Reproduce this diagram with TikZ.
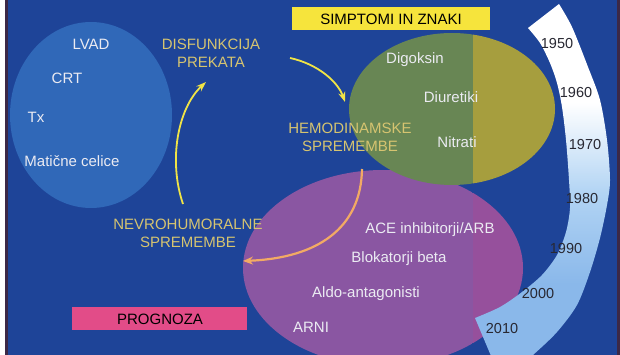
\documentclass[tikz,border=0pt]{standalone}
\usepackage{fontspec}
\setmainfont{Liberation Sans}
\usetikzlibrary{arrows.meta}
\definecolor{bg}{RGB}{30,68,152}
\definecolor{blueell}{RGB}{48,104,184}
\definecolor{greenell}{RGB}{104,134,84}
\definecolor{oliveell}{RGB}{166,158,62}
\definecolor{purpell}{RGB}{138,86,162}
\definecolor{purpell2}{RGB}{150,80,156}
\definecolor{khaki}{RGB}{214,196,112}
\definecolor{arrowyel}{RGB}{240,228,70}
\definecolor{arroworg}{RGB}{242,170,100}
\definecolor{ybox}{RGB}{246,228,60}
\definecolor{pbox}{RGB}{226,76,136}
\definecolor{bandlow}{RGB}{138,184,234}
\definecolor{bandmid}{RGB}{178,212,244}
\definecolor{yeartxt}{RGB}{40,40,50}
\definecolor{wtxt}{RGB}{235,235,242}
\definecolor{edgeline}{RGB}{60,40,70}
\pgfdeclareverticalshading{bandshade}{100bp}{color(0bp)=(bandlow); color(38bp)=(bandlow); color(50bp)=(bandmid); color(62bp)=(white); color(100bp)=(white)}
\tikzset{
  lbl/.style={anchor=north, inner sep=0pt, font=\fontsize{15}{18}\selectfont},
  wlbl/.style={lbl, text=wtxt},
  klbl/.style={lbl, text=khaki, align=center},
  yearlbl/.style={anchor=north, inner sep=0pt, text=yeartxt, font=\fontsize{14.5}{17}\selectfont},
  yarrow/.style={draw=arrowyel, line width=1.8pt, -{Stealth[length=10pt,width=7pt]}},
  oarrow/.style={draw=arroworg, line width=2.2pt, -{Stealth[length=10pt,width=8pt]}},
  boxlbl/.style={inner sep=0pt, text=black, font=\fontsize{15}{18}\selectfont}
}
\begin{document}
\begin{tikzpicture}[x=1pt,y=-1pt]
\useasboundingbox (0,0) rectangle (620,355);
\fill[white] (0,0) rectangle (620,355);
\fill[edgeline] (4.5,0) rectangle (8,355);
\fill[bg] (8,0) rectangle (617,355);
\fill[edgeline] (617,0) rectangle (620,355);
\begin{scope}
\clip (8,0) rectangle (617,355);
% blue ellipse
\fill[blueell] (91,115) ellipse [x radius=81pt, y radius=93pt];
% purple ellipse
\begin{scope}
\clip (383,268) ellipse [x radius=140pt, y radius=98pt];
\fill[purpell] (230,160) rectangle (473,380);
\fill[purpell2] (473,160) rectangle (540,380);
\end{scope}
% green ellipse
\begin{scope}
\clip (452,109) ellipse [x radius=103pt, y radius=76pt];
\fill[greenell] (340,20) rectangle (473,200);
\fill[oliveell] (473,20) rectangle (570,200);
\end{scope}
% timeline band
\path[shading=bandshade]
  plot[smooth] coordinates {(559,4) (572,27) (588,67) (600,100) (607,140) (610,180) (607,205) (600,238) (590,272) (577,305) (557,332) (533,355) (502,382)}
  -- plot[smooth] coordinates {(475,318) (500,307) (522,292) (542,275) (557,255) (566,232) (570,208) (569,180) (566,140) (562,107) (557,83) (550,63) (540,43) (528,28)}
  -- cycle;
\end{scope}
% boxes
\fill[ybox] (292,7) rectangle (490,30);
\node[boxlbl] (simpt) at (391,19) {SIMPTOMI IN ZNAKI};
\fill[pbox] (72,307) rectangle (247,330);
\node[boxlbl] (prog) at (160,319) {PROGNOZA};
% blue ellipse labels
\node[wlbl] (lvad) at (91,39) {LVAD};
\node[wlbl] (crt) at (67,73) {CRT};
\node[wlbl] (tx) at (36,112) {Tx};
\node[wlbl] (mat) at (72,155.5) {Matične celice};
% green ellipse labels
\node[wlbl] (dig) at (415,52.5) {Digoksin};
\node[wlbl] (diu) at (451,91.5) {Diuretiki};
\node[wlbl] (nit) at (457,136.5) {Nitrati};
% purple ellipse labels
\node[wlbl] (ace) at (430,222.5) {ACE inhibitorji/ARB};
\node[wlbl] (blok) at (399,251.5) {Blokatorji beta};
\node[wlbl] (aldo) at (366,286.5) {Aldo-antagonisti};
\node[wlbl] (arni) at (311,321.5) {ARNI};
% cycle labels
\node[klbl] (disf) at (211,38.5) {DISFUNKCIJA\\PREKATA};
\node[klbl] (hemo) at (350,122.5) {HEMODINAMSKE\\SPREMEMBE};
\node[klbl] (nevro) at (188,218.5) {NEVROHUMORALNE\\SPREMEMBE};
% years
\node[yearlbl] (y50) at (557,38) {1950};
\node[yearlbl] (y60) at (576,87) {1960};
\node[yearlbl] (y70) at (585,139) {1970};
\node[yearlbl] (y80) at (582,193) {1980};
\node[yearlbl] (y90) at (566,243) {1990};
\node[yearlbl] (y00) at (538,288) {2000};
\node[yearlbl] (y10) at (502,323) {2010};
% arrows
\coordinate (a1s) at (183,204);
\coordinate (a1e) at (206,82);
\coordinate (a2s) at (290,58);
\coordinate (a2e) at (345,102);
\coordinate (a3s) at (362,169);
\coordinate (a3e) at (243,261);
\draw[yarrow] (a1s) .. controls (168,160) and (178,108) .. (a1e);
\draw[yarrow] (a2s) .. controls (318,64) and (338,82) .. (a2e);
\draw[oarrow] (a3s) .. controls (361,228) and (318,258) .. (a3e);
\end{tikzpicture}
\end{document}
